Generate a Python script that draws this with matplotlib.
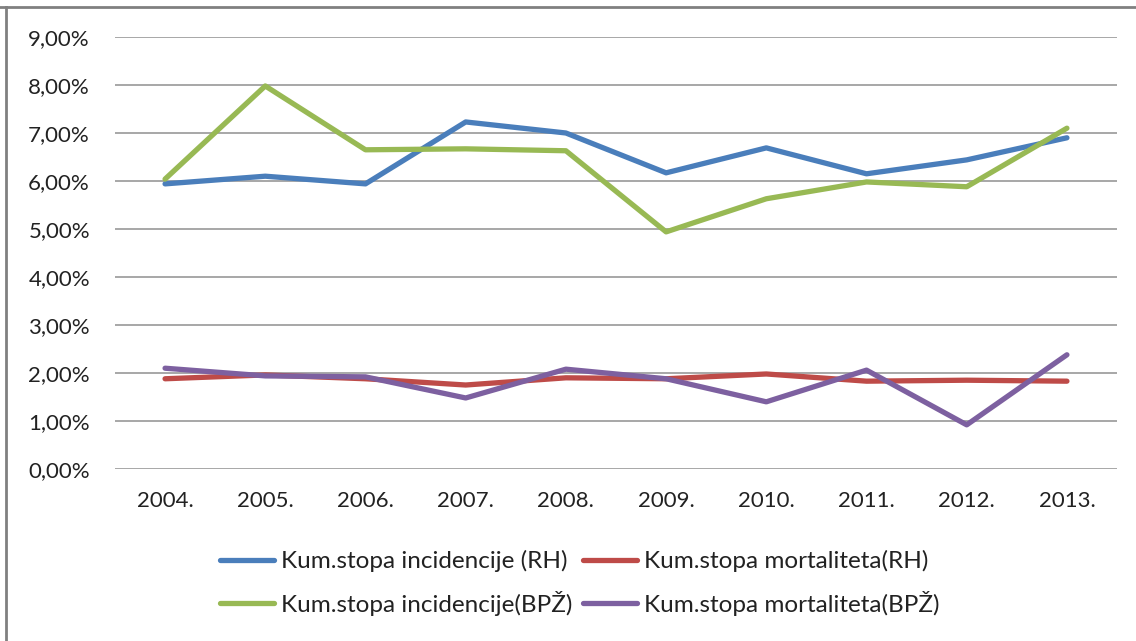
import matplotlib.pyplot as plt
from matplotlib.ticker import FuncFormatter
from matplotlib.lines import Line2D

plt.rcParams['font.family'] = ['Lato', 'DejaVu Sans']

# Podaci (postoci)
years = ["2004.", "2005.", "2006.", "2007.", "2008.", "2009.", "2010.", "2011.", "2012.", "2013."]
inc_rh = [5.94, 6.10, 5.94, 7.23, 7.00, 6.17, 6.69, 6.15, 6.44, 6.90]
mort_rh = [1.88, 1.96, 1.88, 1.75, 1.90, 1.88, 1.98, 1.83, 1.85, 1.83]
inc_bpz = [6.04, 7.98, 6.65, 6.67, 6.63, 4.94, 5.63, 5.98, 5.88, 7.10]
mort_bpz = [2.10, 1.94, 1.92, 1.48, 2.08, 1.88, 1.40, 2.06, 0.92, 2.38]

labels = ["Kum.stopa incidencije (RH)", "Kum.stopa mortaliteta(RH)",
          "Kum.stopa incidencije(BPŽ)", "Kum.stopa mortaliteta(BPŽ)"]
colors = ["#4A7EBB", "#BE4B48", "#98B954", "#7D60A0"]

fig = plt.figure(figsize=(11.36, 6.41), dpi=100)
ax = fig.add_axes([0.1012, 0.2683, 0.8821, 0.674])

x = range(len(years))
lw = 3.8
for vals, c in zip([inc_rh, mort_rh, inc_bpz, mort_bpz], colors):
    ax.plot(x, vals, color=c, lw=lw, solid_capstyle="round", solid_joinstyle="round")

ax.set_xlim(-0.5, len(years) - 0.5)
ax.set_ylim(0, 9)
ax.set_yticks(range(0, 10))
ax.yaxis.set_major_formatter(FuncFormatter(lambda v, p: f"{v:.2f}%".replace(".", ",")))
ax.set_xticks(list(x))
ax.set_xticklabels(years)
ax.tick_params(length=0, labelsize=16, colors="#222222")
ax.tick_params(axis="y", pad=18)
ax.tick_params(axis="x", pad=16)
ax.grid(axis="y", color="#A0A0A0", lw=1.3)
ax.set_axisbelow(True)
for s in ax.spines.values():
    s.set_visible(False)

# Okvir slike
fig.add_artist(Line2D([0, 1], [1 - 7 / 641, 1 - 7 / 641], color="#808080", lw=2, transform=fig.transFigure))
fig.add_artist(Line2D([6 / 1136, 6 / 1136], [0, 1 - 7 / 641], color="#808080", lw=2, transform=fig.transFigure))

# legenda: redoslijed po stupcima -> redovi (plava, crvena), (zelena, ljubičasta)
order = [0, 2, 1, 3]
handles = [Line2D([], [], color=colors[i], lw=lw, solid_capstyle="round") for i in order]
fig.legend(handles, [labels[i] for i in order], ncol=2, loc="center",
           bbox_to_anchor=(580 / 1136, 1 - 583 / 641),
           frameon=False, fontsize=17.5, handlelength=2.2, handletextpad=0.3,
           columnspacing=0.45, labelspacing=0.75, labelcolor="#222222")

fig.savefig("out.png", dpi=100)
